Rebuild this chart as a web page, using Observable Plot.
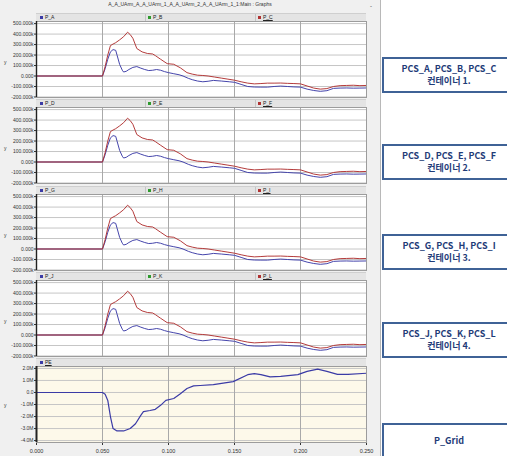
<!DOCTYPE html>
<html><head><meta charset="utf-8">
<script src="https://cdn.jsdelivr.net/npm/d3@7"></script>
<script src="https://cdn.jsdelivr.net/npm/@observablehq/plot@0.6"></script>
<style>
body{margin:0;background:#fff;}
#root{position:relative;width:507px;height:456px;overflow:hidden;background:#fff;font-family:"Liberation Sans",Arial,sans-serif;}
.win{position:absolute;left:0;top:0;width:380px;height:456px;background:#f0f0f0;border-right:1px solid #b8b8b8;}
.title{position:absolute;left:0;width:380px;top:0px;text-align:center;font-size:5px;line-height:8px;color:#333;}
.leg{position:absolute;left:36px;width:330px;height:7px;background:#e4e4e4;border-top:1px solid #cfcfcf;font-size:5px;line-height:7px;color:#222;}
.leg span{position:absolute;top:0;white-space:nowrap;}
.leg .sep{position:absolute;top:0;width:1px;height:7px;background:#c4c4c4;}
.sq{display:inline-block;width:3px;height:3px;margin-right:2px;vertical-align:middle;}
.panel{position:absolute;left:0;}
.ylab{position:absolute;left:4px;font-size:5px;color:#333;}
.box{position:absolute;left:382px;width:130px;height:32px;border:2px solid #3f6296;background:#fff;color:#1f3c78;font-family:"Noto Sans CJK KR";font-weight:700;font-size:9px;line-height:12px;text-align:center;display:flex;flex-direction:column;justify-content:center;}
</style></head><body><div id="root"></div>
<script>
// time (s) and power values (k) for the blue curve (P_A, P_D, P_G, P_J)
const tA = [0, 0.05, 0.052, 0.054, 0.056, 0.058, 0.060, 0.061, 0.063, 0.065, 0.066, 0.068, 0.070, 0.073, 0.076, 0.079, 0.082, 0.085, 0.088, 0.091, 0.094, 0.097, 0.100, 0.104, 0.108, 0.111, 0.115, 0.118, 0.122, 0.126, 0.130, 0.134, 0.140, 0.146, 0.150, 0.155, 0.160, 0.165, 0.170, 0.175, 0.180, 0.185, 0.190, 0.195, 0.200, 0.205, 0.210, 0.215, 0.220, 0.225, 0.230, 0.235, 0.240, 0.245, 0.250];
const pA = [0, 0, 70, 160, 230, 252, 245, 200, 110, 55, 38, 45, 62, 82, 90, 75, 62, 52, 55, 62, 55, 42, 32, 22, 12, 0, -22, -35, -48, -55, -50, -42, -48, -55, -60, -80, -100, -105, -106, -106, -100, -96, -100, -104, -106, -125, -138, -146, -140, -118, -115, -114, -116, -115, -114];
// red curve (P_C, P_F, P_I, P_L); the green series is hidden beneath it
const tC = [0, 0.05, 0.052, 0.054, 0.056, 0.058, 0.060, 0.063, 0.066, 0.069, 0.071, 0.073, 0.076, 0.080, 0.084, 0.088, 0.090, 0.094, 0.099, 0.104, 0.109, 0.114, 0.118, 0.122, 0.126, 0.130, 0.135, 0.140, 0.145, 0.150, 0.155, 0.160, 0.165, 0.170, 0.175, 0.180, 0.185, 0.190, 0.195, 0.200, 0.205, 0.210, 0.215, 0.220, 0.225, 0.230, 0.235, 0.240, 0.245, 0.250];
const pC = [0, 0, 90, 200, 290, 305, 318, 345, 375, 418, 395, 360, 262, 230, 215, 210, 195, 160, 118, 112, 78, 32, 18, 8, 5, 0, -10, -20, -30, -40, -55, -68, -75, -72, -68, -68, -67, -70, -72, -75, -95, -115, -125, -120, -100, -92, -90, -88, -92, -90];
// grid power (M)
const tG = [0, 0.05, 0.052, 0.054, 0.056, 0.058, 0.061, 0.066, 0.071, 0.075, 0.079, 0.081, 0.086, 0.090, 0.094, 0.098, 0.104, 0.109, 0.114, 0.119, 0.124, 0.134, 0.149, 0.160, 0.165, 0.170, 0.177, 0.185, 0.198, 0.205, 0.213, 0.220, 0.228, 0.236, 0.250];
const pG = [0, 0, -0.15, -0.66, -2.0, -3.0, -3.2, -3.2, -3.0, -2.6, -1.9, -1.6, -1.5, -1.4, -1.07, -0.66, -0.5, -0.1, 0.33, 0.55, 0.58, 0.66, 0.9, 1.48, 1.56, 1.48, 1.3, 1.34, 1.48, 1.75, 1.94, 1.75, 1.5, 1.5, 1.6];

const legendNames = [["P_A","P_B","P_C"],["P_D","P_E","P_F"],["P_G","P_H","P_I"],["P_J","P_K","P_L"]];
const boxLines = [["PCS_A, PCS_B, PCS_C","컨테이너 1."],["PCS_D, PCS_E, PCS_F","컨테이너 2."],["PCS_G, PCS_H, PCS_I","컨테이너 3."],["PCS_J, PCS_K, PCS_L","컨테이너 4."],["P_Grid"]];
const kTicks = [-200, -100, 0, 100, 200, 300, 400, 500];
const mTicks = [-4, -3, -2, -1, 0, 1, 2];
const xTicks = [0, 0.05, 0.1, 0.15, 0.2, 0.25];
const titleText = "A_A_UArm_A_A_UArm_1_A_A_UArm_2_A_A_UArm_1_1:Main : Graphs";

const BLUE = "#3b3ba6", RED = "#b03232", GREEN = "#2e9a2e";
const root = document.getElementById("root");
function el(cls, style, html){const d=document.createElement("div");d.className=cls;Object.assign(d.style,style);if(html!=null)d.innerHTML=html;root.appendChild(d);return d;}
el("win",{});
el("title",{},titleText);
el("ylab",{left:"370px",top:"3px",fontSize:"6px"},"-");

const fmtK = d => d === 0 ? "0.000" : d.toFixed(3) + "k";
const fmtM = d => d === 0 ? "0.0" : d.toFixed(1) + "M";

function panel({yDomain, yTicks, yFormat, bg, lines, xAxis}) {
  const extra = xAxis ? 13 : 0;
  return Plot.plot({
    width: 381, height: 80 + extra,
    marginLeft: 36, marginRight: 15, marginTop: 2, marginBottom: 2 + extra,
    x: {domain: [0, 0.25]},
    y: {domain: yDomain},
    style: {background: "transparent", fontSize: "5px", fontFamily: "Liberation Sans, Arial, sans-serif", color: "#333"},
    marks: [
      Plot.frame({fill: bg, stroke: null}),
      Plot.gridY(yTicks, {stroke: "#c6c6c6", strokeOpacity: 1}),
      Plot.gridX([0.05, 0.1, 0.15, 0.2], {stroke: "#a9a9a9", strokeOpacity: 1}),
      Plot.axisY(yTicks, {tickFormat: yFormat, tickSize: 2, tickPadding: 1, fontSize: 5}),
      xAxis ? Plot.axisX(xTicks, {tickFormat: d => d.toFixed(3), tickSize: 3, tickPadding: 4, fontSize: 5.5}) : Plot.axisX([], {}),
      ...lines.map(s => Plot.line(s.y, {x: s.x, y: s.y, stroke: s.c, strokeWidth: s.w || 0.95})),
      Plot.frame({stroke: "#9c9c9c"}),
      Plot.ruleX([0], {stroke: "#222", strokeWidth: xAxis ? 2 : 1.4})
    ]
  });
}

const tops = [21, 107, 194, 280];
tops.forEach((top, i) => {
  const leg = el("leg", {top: (top - 8) + "px"});
  const names = legendNames[i];
  [[4, BLUE], [112, GREEN], [222, RED]].forEach(([x, c], j) => {
    const s = document.createElement("span");
    s.style.left = x + "px";
    s.innerHTML = `<span class="sq" style="position:static;background:${c}"></span>${names[j]}`;
    if (j === 2) s.style.textDecoration = "underline";
    leg.appendChild(s);
    if (j > 0) { const sp = document.createElement("div"); sp.className = "sep"; sp.style.left = (x - 3) + "px"; leg.appendChild(sp); }
  });
  const p = panel({
    yDomain: [-205, 520], yTicks: kTicks, yFormat: fmtK, bg: "#ffffff",
    lines: [{x: tA, y: pA, c: BLUE}, {x: tC, y: pC, c: RED}]
  });
  p.classList.add("panel"); p.style.position = "absolute"; p.style.top = (top - 2) + "px"; p.style.left = "0px";
  root.appendChild(p);
  el("ylab", {top: (top + 38) + "px"}, "y");
});

// grid panel
const gTop = 366;
const leg5 = el("leg", {top: (gTop - 8) + "px"});
leg5.innerHTML = `<span style="left:4px;text-decoration:underline"><span class="sq" style="position:static;background:${BLUE}"></span>PE</span>`;
const p5 = panel({
  yDomain: [-4.16, 2.16], yTicks: mTicks, yFormat: fmtM, bg: "#fdf9ea",
  lines: [{x: tG, y: pG, c: BLUE, w: 1.2}], xAxis: true
});
p5.style.position = "absolute"; p5.style.top = (gTop - 2) + "px"; p5.style.left = "0px";
root.appendChild(p5);
el("ylab", {top: (gTop + 36) + "px"}, "y");

// right-hand labels
const boxTops = [57, 144, 234, 322, 423];
boxTops.forEach((t, i) => {
  el("box", {top: t + "px"}, boxLines[i].map(s => `<div>${s}</div>`).join(""));
});
</script></body></html>
